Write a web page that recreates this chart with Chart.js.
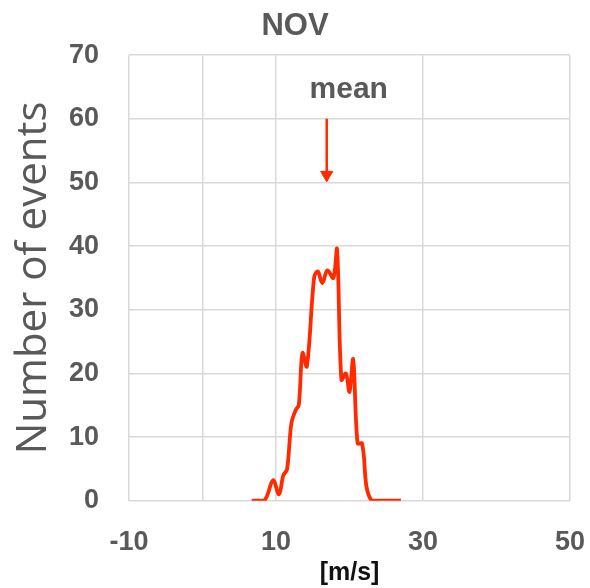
<!DOCTYPE html>
<html>
<head>
<meta charset="utf-8">
<script src="https://cdn.jsdelivr.net/npm/chart.js@4.4.0/dist/chart.umd.min.js"></script>
<style>
  body { margin: 0; background: #fff; }
  #wrap { width: 590px; height: 588px; }
</style>
</head>
<body>
<div id="wrap"><canvas id="chart" width="590" height="588"></canvas></div>
<script>
// --- dane ---
const speeds = [6.7, 8.4, 9.6, 10.4, 11.0, 11.5, 12.1, 12.7, 13.1, 13.6, 14.2, 15.2, 15.7, 16.3, 17.0, 17.8, 18.3, 18.9, 19.5, 20.0, 20.5, 21.1, 21.7, 23.0, 27.0];
const events = [0, 0, 3.2, 1.0, 4.0, 4.9, 12.2, 14.3, 15.0, 23.2, 21.1, 35.2, 36.0, 34.2, 36.2, 35.0, 39.5, 19.0, 20.0, 17.1, 22.2, 9.0, 9.0, 0, 0];
const xTickLabels = [-10, 10, 30, 50];
const meanSpeed = 16.9;
const meanArrow = [60, 51.2];

const GRAY = '#595959';
const GRID = '#d9d9d9';
const FONT = "'Liberation Sans', Arial, sans-serif";

const curve = speeds.map((s, i) => ({ x: s, y: events[i] }));
const arrow = meanArrow.map(v => ({ x: meanSpeed, y: v }));

// napis "mean" nad strzalka
const meanLabel = {
  id: 'meanLabel',
  afterDatasetsDraw(chart) {
    const { ctx, scales } = chart;
    const x = scales.x.getPixelForValue(meanSpeed) + 22;
    const y = scales.y.getPixelForValue(meanArrow[0]) - 29;
    ctx.save();
    ctx.font = 'bold 30px ' + FONT;
    ctx.fillStyle = GRAY;
    ctx.textAlign = 'center';
    ctx.textBaseline = 'middle';
    ctx.fillText('mean', x, y);
    ctx.restore();
  }
};

new Chart(document.getElementById('chart'), {
  type: 'scatter',
  data: {
    datasets: [
      {
        data: curve,
        showLine: true,
        borderColor: '#ff2a00',
        borderWidth: 3.8,
        pointRadius: 0,
        tension: 0.35
      },
      {
        data: arrow,
        showLine: true,
        borderColor: '#ff2a00',
        backgroundColor: '#ff2a00',
        borderWidth: 2.5,
        pointStyle: 'triangle',
        pointRotation: 180,
        pointRadius: [0, 7],
        pointBorderWidth: 1
      }
    ]
  },
  options: {
    responsive: false,
    animation: false,
    layout: { padding: { left: 0, right: 0, top: 0, bottom: 0 } },
    plugins: {
      legend: { display: false },
      tooltip: { enabled: false },
      title: {
        display: true,
        text: 'NOV',
        color: GRAY,
        font: { family: FONT, size: 31, weight: 'bold' },
        padding: { top: 8, bottom: 10 }
      }
    },
    scales: {
      x: {
        type: 'linear',
        min: -10,
        max: 50,
        afterFit(scale) {
          scale.height = 87.3;
          scale.paddingLeft = 0;
          scale.paddingRight = 20;
        },
        ticks: {
          stepSize: 10,
          autoSkip: false,
          maxRotation: 0,
          padding: 26,
          color: GRAY,
          font: { family: FONT, size: 27, weight: 'bold' },
          callback: v => xTickLabels.includes(v) ? String(v) : ''
        },
        grid: {
          drawTicks: false,
          lineWidth: 1.5,
          color: ctx => (ctx.tick && (ctx.tick.value === 20 || ctx.tick.value === 40)) ? 'rgba(0,0,0,0)' : GRID
        },
        border: { display: false },
        title: {
          display: true,
          text: '[m/s]',
          color: '#111',
          font: { family: FONT, size: 25, weight: 'bold' },
          padding: 0
        }
      },
      y: {
        min: 0,
        max: 70,
        afterFit(scale) { scale.width = 129; },
        ticks: {
          stepSize: 10,
          padding: 30,
          color: GRAY,
          font: { family: FONT, size: 27, weight: 'bold' }
        },
        grid: { drawTicks: false, lineWidth: 1.5, color: GRID },
        border: { display: false },
        title: {
          display: true,
          text: 'Number of events',
          color: GRAY,
          font: { family: "'Open Sans', sans-serif", size: 42 },
          padding: { top: 9, bottom: 0 }
        }
      }
    }
  },
  plugins: [meanLabel]
});
</script>
</body>
</html>
